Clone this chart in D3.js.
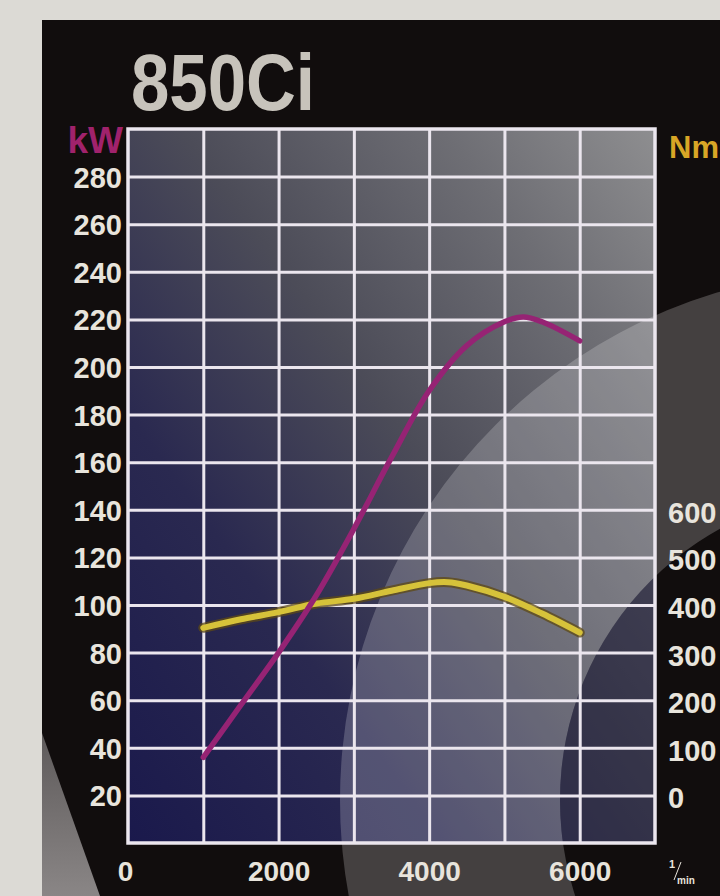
<!DOCTYPE html>
<html>
<head>
<meta charset="utf-8">
<script src="https://cdn.jsdelivr.net/npm/d3@7/dist/d3.min.js"></script>
<style>
	body { margin: 0; background: #dcdad5; }
	svg { display: block; }
	text { font-family: 'Liberation Sans', Arial, sans-serif; font-weight: bold; }
</style>
</head>
<body>
<div id="chart"></div>
<script>
const title = '850Ci';

// engine speed in 1/min
const powerRpm = [1000, 1500, 2000, 2500, 3000, 3500, 4000, 4500, 5000, 5250, 5500, 6000];
const powerKw = [36, 58, 80, 104, 132, 162, 190, 209, 219, 221, 219, 211];

const torqueRpm = [1000, 1500, 2000, 2500, 3000, 3500, 4000, 4250, 4500, 5000, 5500, 6000];
const torqueNm = [352, 370, 385, 403, 413, 430, 446, 448, 441, 417, 382, 342];

const kwTicks = [20, 40, 60, 80, 100, 120, 140, 160, 180, 200, 220, 240, 260, 280];
const nmTicks = [0, 100, 200, 300, 400, 500, 600];
const rpmTicks = [0, 2000, 4000, 6000];
const rpmGrid = [1000, 2000, 3000, 4000, 5000, 6000];

const width = 720;
const height = 896;
const plot = { left: 128, right: 655, top: 129, bottom: 843 };

const svg = d3.select('#chart').append('svg')
	.attr('width', width)
	.attr('height', height);

const defs = svg.append('defs');

defs.append('clipPath').attr('id', 'plotClip')
	.append('rect')
	.attr('x', plot.left).attr('y', plot.top)
	.attr('width', plot.right - plot.left).attr('height', plot.bottom - plot.top);

const baseGrad = defs.append('linearGradient').attr('id', 'baseGrad')
	.attr('x1', 0).attr('y1', 1).attr('x2', 1).attr('y2', 0);
[[0, '#1a194c'], [0.3, '#2a2950'], [0.55, '#4c4c58'], [0.8, '#6e6e74'], [1, '#8e8e90']]
	.forEach(s => baseGrad.append('stop').attr('offset', s[0]).attr('stop-color', s[1]));

const triGrad = defs.append('linearGradient').attr('id', 'triGrad')
	.attr('x1', 0).attr('y1', 0).attr('x2', 0).attr('y2', 1);
triGrad.append('stop').attr('offset', 0).attr('stop-color', '#5e5a5a');
triGrad.append('stop').attr('offset', 1).attr('stop-color', '#8a8686');

// dark panel behind everything
svg.append('rect')
	.attr('x', 42).attr('y', 20)
	.attr('width', width - 42).attr('height', height - 20)
	.attr('fill', '#110d0d');

svg.append('path')
	.attr('d', 'M42,733 L100,896 L42,896 Z')
	.attr('fill', 'url(#triGrad)');

// decorative ring outside the plot
const ring = { cx: 870, cy: 800, outer: 530, inner: 310 };
const ringPath = `M${ring.cx - ring.outer},${ring.cy} a${ring.outer},${ring.outer} 0 1,0 ${2 * ring.outer},0 a${ring.outer},${ring.outer} 0 1,0 ${-2 * ring.outer},0 Z ` +
	`M${ring.cx - ring.inner},${ring.cy} a${ring.inner},${ring.inner} 0 1,1 ${2 * ring.inner},0 a${ring.inner},${ring.inner} 0 1,1 ${-2 * ring.inner},0 Z`;

svg.append('path')
	.attr('d', ringPath)
	.attr('fill', '#444040')
	.attr('fill-rule', 'evenodd');

// plot background
const bg = svg.append('g').attr('clip-path', 'url(#plotClip)');
bg.append('rect')
	.attr('x', plot.left).attr('y', plot.top)
	.attr('width', plot.right - plot.left).attr('height', plot.bottom - plot.top)
	.attr('fill', 'url(#baseGrad)');
bg.append('path')
	.attr('d', ringPath)
	.attr('fill', '#ffffff')
	.attr('fill-opacity', 0.2)
	.attr('fill-rule', 'evenodd');
bg.append('circle')
	.attr('cx', ring.cx).attr('cy', ring.cy).attr('r', ring.inner)
	.attr('fill', '#24223e')
	.attr('fill-opacity', 0.55);

// scales
const x = d3.scaleLinear().domain([0, 7000]).range([plot.left, plot.right]);
const yKw = d3.scaleLinear().domain([0, 300]).range([plot.bottom, plot.top]);
const yNm = d3.scaleLinear().domain([-100, 1400]).range([plot.bottom, plot.top]);

// grid
const gridColor = '#ebe6ee';

svg.append('g')
	.attr('transform', `translate(${plot.left},0)`)
	.call(d3.axisLeft(yKw).tickValues(kwTicks).tickSize(-(plot.right - plot.left)).tickFormat(''))
	.call(g => g.select('.domain').remove())
	.call(g => g.selectAll('line').attr('stroke', gridColor).attr('stroke-width', 3));

svg.append('g')
	.attr('transform', `translate(0,${plot.bottom})`)
	.call(d3.axisBottom(x).tickValues(rpmGrid).tickSize(-(plot.bottom - plot.top)).tickFormat(''))
	.call(g => g.select('.domain').remove())
	.call(g => g.selectAll('line').attr('stroke', gridColor).attr('stroke-width', 3));

svg.append('rect')
	.attr('x', plot.left).attr('y', plot.top)
	.attr('width', plot.right - plot.left).attr('height', plot.bottom - plot.top)
	.attr('fill', 'none')
	.attr('stroke', gridColor)
	.attr('stroke-width', 3.5);

// tick labels
const labelColor = '#e8e4dc';

svg.append('g')
	.attr('transform', `translate(${plot.left - 6},0)`)
	.call(d3.axisLeft(yKw).tickValues(kwTicks).tickSize(0).tickPadding(0))
	.call(g => g.select('.domain').remove())
	.call(g => g.selectAll('text')
		.attr('fill', labelColor)
		.attr('font-size', 29)
		.attr('font-family', null)
		.attr('dy', '0.36em'));

svg.append('g')
	.attr('transform', `translate(${plot.right + 13},2)`)
	.call(d3.axisRight(yNm).tickValues(nmTicks).tickSize(0).tickPadding(0))
	.call(g => g.select('.domain').remove())
	.call(g => g.selectAll('text')
		.attr('fill', labelColor)
		.attr('font-size', 29)
		.attr('font-family', null)
		.attr('dy', '0.36em'));

svg.append('g')
	.attr('transform', `translate(0,${plot.bottom + 18})`)
	.call(d3.axisBottom(x).tickValues(rpmTicks).tickSize(0).tickPadding(0).tickFormat(d3.format('d')))
	.call(g => g.select('.domain').remove())
	.call(g => g.selectAll('text')
		.attr('fill', labelColor)
		.attr('font-size', 28)
		.attr('font-family', null)
		.attr('dy', '0.71em'))
	.call(g => g.selectAll('.tick').filter(d => d === 0).select('text').attr('dx', -3));

// unit labels
svg.append('text')
	.attr('x', plot.left - 5).attr('y', 153)
	.attr('text-anchor', 'end')
	.attr('font-size', 37)
	.attr('fill', '#a0226c')
	.text('kW');

svg.append('text')
	.attr('x', plot.right + 14).attr('y', 158)
	.attr('font-size', 31)
	.attr('fill', '#d8a626')
	.text('Nm');

const unit = svg.append('g').attr('fill', labelColor);
unit.append('text').attr('x', 669).attr('y', 868).attr('font-size', 11).text('1');
unit.append('line')
	.attr('x1', 674).attr('y1', 880).attr('x2', 681).attr('y2', 862)
	.attr('stroke', labelColor).attr('stroke-width', 1);
unit.append('text').attr('x', 677).attr('y', 884).attr('font-size', 10).text('min');

// title
svg.append('text')
	.attr('x', 131).attr('y', 110)
	.attr('font-size', 80)
	.attr('fill', '#c7c3bb')
	.attr('textLength', 184)
	.attr('lengthAdjust', 'spacingAndGlyphs')
	.text(title);

// curves
const torqueLine = d3.line()
	.x(d => x(d[0]))
	.y(d => yNm(d[1]))
	.curve(d3.curveCatmullRom.alpha(0.5));

const powerLine = d3.line()
	.x(d => x(d[0]))
	.y(d => yKw(d[1]))
	.curve(d3.curveCatmullRom.alpha(0.5));

const torqueData = d3.zip(torqueRpm, torqueNm);
const powerData = d3.zip(powerRpm, powerKw);

svg.append('path')
	.datum(torqueData)
	.attr('d', torqueLine)
	.attr('fill', 'none')
	.attr('stroke', '#5e4a16')
	.attr('stroke-opacity', 0.75)
	.attr('stroke-width', 10)
	.attr('stroke-linecap', 'round');

svg.append('path')
	.datum(torqueData)
	.attr('d', torqueLine)
	.attr('fill', 'none')
	.attr('stroke', '#d6c23a')
	.attr('stroke-width', 6)
	.attr('stroke-linecap', 'round');

svg.append('path')
	.datum(powerData)
	.attr('d', powerLine)
	.attr('fill', 'none')
	.attr('stroke', '#962374')
	.attr('stroke-width', 5.5)
	.attr('stroke-linecap', 'round');
</script>
</body>
</html>
